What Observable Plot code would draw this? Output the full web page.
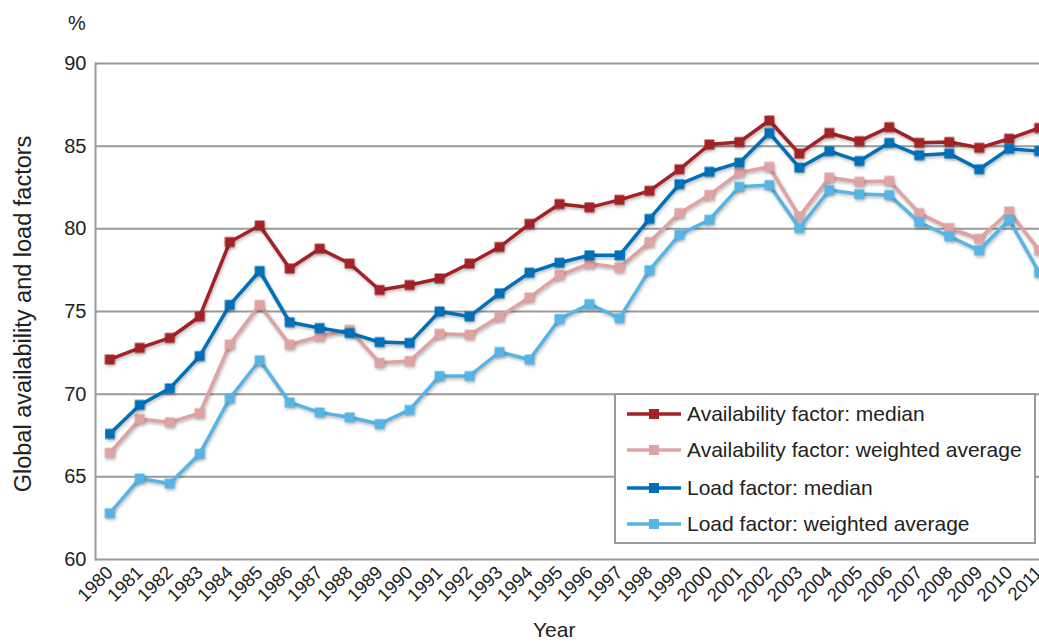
<!DOCTYPE html>
<html>
<head>
<meta charset="utf-8">
<script src="https://cdn.jsdelivr.net/npm/d3@7"></script>
<script src="https://cdn.jsdelivr.net/npm/@observablehq/plot@0.6"></script>
<style>
  html, body { margin: 0; padding: 0; background: #fff; }
  #wrap { position: relative; width: 1039px; height: 644px; overflow: hidden; font-family: "Liberation Sans", Arial, sans-serif; color: #222; }
  .lbl { position: absolute; white-space: nowrap; color: #222; }
  #legend { position: absolute; left: 614px; top: 393px; width: 418px; height: 147px; background: #fff; border: 2px solid #9a9a9a; box-sizing: content-box; }
  .row { position: absolute; left: 10px; height: 30px; display: flex; align-items: center; font-size: 21px; }
  .row svg { margin-right: 5px; }
</style>
</head>
<body>
<div id="wrap"></div>
<script>
const years = [1980,1981,1982,1983,1984,1985,1986,1987,1988,1989,1990,1991,1992,1993,1994,1995,1996,1997,1998,1999,2000,2001,2002,2003,2004,2005,2006,2007,2008,2009,2010,2011];
const availMedian   = [72.1,72.8,73.4,74.7,79.2,80.2,77.6,78.8,77.9,76.3,76.6,77.0,77.9,78.9,80.3,81.5,81.3,81.75,82.3,83.6,85.1,85.25,86.55,84.55,85.8,85.3,86.15,85.2,85.25,84.9,85.45,86.1];
const availWeighted = [66.45,68.5,68.3,68.85,73.0,75.4,73.0,73.5,73.9,71.9,72.0,73.65,73.6,74.7,75.85,77.2,77.9,77.65,79.2,80.95,82.05,83.4,83.75,80.75,83.1,82.85,82.9,80.95,80.05,79.4,81.05,78.7];
const loadMedian    = [67.6,69.35,70.35,72.3,75.4,77.45,74.35,74.0,73.7,73.15,73.1,75.0,74.7,76.1,77.35,77.95,78.4,78.4,80.6,82.7,83.45,84.0,85.8,83.7,84.7,84.1,85.2,84.45,84.55,83.6,84.85,84.7];
const loadWeighted  = [62.8,64.9,64.6,66.4,69.75,72.05,69.5,68.9,68.6,68.2,69.05,71.1,71.1,72.55,72.1,74.55,75.45,74.6,77.5,79.65,80.55,82.55,82.65,80.05,82.35,82.1,82.05,80.4,79.55,78.7,80.55,77.35];
const seriesNames  = ["Availability factor: median","Availability factor: weighted average","Load factor: median","Load factor: weighted average"];
const seriesColors = ["#a32226","#e0a3a4","#0070b8","#56b5e5"];
const yTicks = [60,65,70,75,80,85,90];

const seriesValues = [availMedian, availWeighted, loadMedian, loadWeighted];
const tables = seriesValues.map((vals, i) => years.map((yr, j) => ({year: yr, value: vals[j], series: seriesNames[i]})));

const chart = Plot.plot({
  width: 1039,
  height: 644,
  marginLeft: 95,
  marginRight: 0,
  marginTop: 63,
  marginBottom: 85,
  style: {fontFamily: "'Liberation Sans', Arial, sans-serif", background: "#fff", color: "#222", overflow: "visible"},
  x: {domain: [1980, 2011], range: [109.3, 1038.7]},
  y: {domain: [60, 90]},
  marks: [
    Plot.ruleY(yTicks, {stroke: "#9a9a9a", strokeWidth: 2, strokeOpacity: 1}),
    Plot.frame({anchor: "left", stroke: "#9a9a9a", strokeWidth: 2, strokeOpacity: 1}),
    Plot.axisY({ticks: yTicks, tickSize: 0, tickPadding: 9, fontSize: 20, label: null}),
    Plot.axisX({ticks: years, tickFormat: "d", tickRotate: -45, tickSize: 0, tickPadding: 10, fontSize: 18.5, label: null}),
    ...tables.flatMap((t, i) => [
      Plot.line(t, {x: "year", y: "value", stroke: seriesColors[i], strokeWidth: 3.5}),
      Plot.dot(t, {x: "year", y: "value", fill: seriesColors[i], symbol: "square", r: 5.6})
    ])
  ]
});

d3.select(chart).selectAll("g[aria-label='line'], g[aria-label='dot']")
  .style("filter", "drop-shadow(1.5px 2px 1.5px rgba(0,0,0,0.25))");

const wrap = document.getElementById("wrap");
wrap.appendChild(chart);

function addLabel(text, css) {
  const d = document.createElement("div");
  d.className = "lbl";
  d.textContent = text;
  Object.assign(d.style, css);
  wrap.appendChild(d);
  return d;
}
addLabel("%", {left: "68px", top: "12px", fontSize: "20px"});
addLabel("Year", {left: "533px", top: "618px", fontSize: "21px", lineHeight: "24px"});
addLabel("Global availability and load factors", {left: "23px", top: "314px", fontSize: "23.5px", transform: "translate(-50%,-50%) rotate(-90deg)"});

const legend = document.createElement("div");
legend.id = "legend";
const rowTops = [4, 40, 78, 114];
seriesNames.forEach((name, i) => {
  const row = document.createElement("div");
  row.className = "row";
  row.style.top = rowTops[i] + "px";
  const sw = d3.create("svg").attr("width", 56).attr("height", 14);
  sw.append("line").attr("x1", 1).attr("x2", 55).attr("y1", 7).attr("y2", 7).attr("stroke", seriesColors[i]).attr("stroke-width", 3.5);
  sw.append("rect").attr("x", 23).attr("y", 2).attr("width", 10).attr("height", 10).attr("fill", seriesColors[i]);
  row.appendChild(sw.node());
  const sp = document.createElement("span");
  sp.textContent = name;
  row.appendChild(sp);
  legend.appendChild(row);
});
wrap.appendChild(legend);
</script>
</body>
</html>
